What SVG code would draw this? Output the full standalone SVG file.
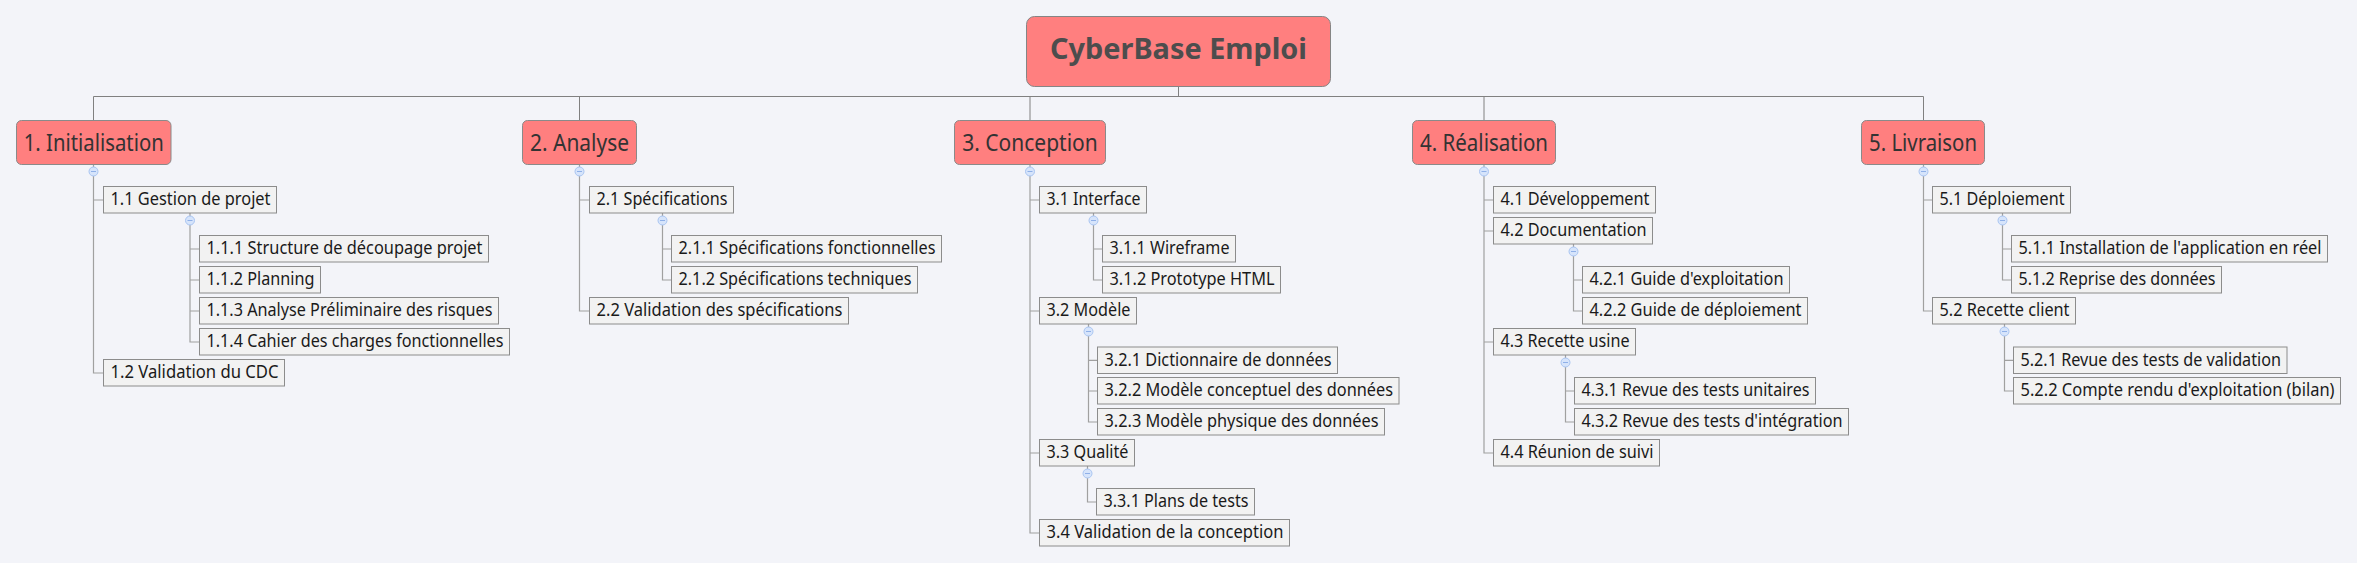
<svg xmlns="http://www.w3.org/2000/svg" xmlns:xlink="http://www.w3.org/1999/xlink" width="2357" height="563" viewBox="0 0 2357 563">
<style>
.bg{fill:#f3f4f9}
.root rect{fill:#ff7f7f;stroke:#858585;stroke-width:1}
.root text{font-family:"Noto Sans","Open Sans",sans-serif;font-weight:bold;font-size:29px;fill:#4d4d4d;text-anchor:middle}
.l1 rect{fill:#ff7f7f;stroke:#8a8a8a;stroke-width:1}
.l1 text{font-family:"Noto Sans","Open Sans",sans-serif;font-size:23px;fill:#333333;text-anchor:middle}
.sub rect{fill:#f2f2f2;stroke:#8c8c8c;stroke-width:1}
.sub text{font-family:"Noto Sans","Open Sans",sans-serif;font-size:18px;fill:#1a1a1a}
.bus{fill:none;stroke:#808080;stroke-width:1}
.ln{fill:none;stroke:#a0a0a0;stroke-width:1.2}
</style>
<defs>
<g id="cc">
<circle cx="0" cy="0" r="4.5" fill="#d6e4fb" stroke="#a9c5f2" stroke-width="1"/>
<line x1="-2.5" y1="0" x2="2.5" y2="0" stroke="#8fb0e8" stroke-width="1"/>
</g>
</defs>
<rect class="bg" x="0" y="0" width="2357" height="563"/>

<g id="connectors">
<path class="bus" d="M93.5 120.5 V96.5 H1923.5 V120.5 M579.5 96.5 V120.5 M1030 96.5 V120.5 M1484 96.5 V120.5 M1178.5 86.5 V96.5"/>
<path class="ln" d="M93.5 164.5 V373 H103.5 M93.5 200 H103.5"/>
<path class="ln" d="M190 213 V342 H199.5 M190 249 H199.5 M190 280 H199.5 M190 311 H199.5"/>
<path class="ln" d="M579.5 164.5 V311 H589.5 M579.5 200 H589.5"/>
<path class="ln" d="M662.5 213 V280 H671.5 M662.5 249 H671.5"/>
<path class="ln" d="M1030 164.5 V533 H1039.5 M1030 200 H1039.5 M1030 311 H1039.5 M1030 453 H1039.5"/>
<path class="ln" d="M1093.5 213 V280 H1102.5 M1093.5 249 H1102.5"/>
<path class="ln" d="M1088.5 324 V422 H1097.5 M1088.5 360.3 H1097.5 M1088.5 391 H1097.5"/>
<path class="ln" d="M1087.5 466 V502 H1096.5"/>
<path class="ln" d="M1484 164.5 V453 H1493.5 M1484 200 H1493.5 M1484 231 H1493.5 M1484 342 H1493.5"/>
<path class="ln" d="M1573.5 244 V311 H1582.5 M1573.5 280 H1582.5"/>
<path class="ln" d="M1565.5 355 V422 H1574.5 M1565.5 391 H1574.5"/>
<path class="ln" d="M1923.5 164.5 V311 H1932.5 M1923.5 200 H1932.5"/>
<path class="ln" d="M2002.5 213 V280 H2011.5 M2002.5 249 H2011.5"/>
<path class="ln" d="M2004.5 324 V391 H2013.5 M2004.5 360.3 H2013.5"/>
<use xlink:href="#cc" x="93.5" y="171.5"/>
<use xlink:href="#cc" x="579.5" y="171.5"/>
<use xlink:href="#cc" x="1030" y="171.5"/>
<use xlink:href="#cc" x="1484" y="171.5"/>
<use xlink:href="#cc" x="1923.5" y="171.5"/>
<use xlink:href="#cc" x="190" y="220.5"/>
<use xlink:href="#cc" x="662.5" y="220.5"/>
<use xlink:href="#cc" x="1093.5" y="220.5"/>
<use xlink:href="#cc" x="1088.5" y="331.5"/>
<use xlink:href="#cc" x="1087.5" y="473.5"/>
<use xlink:href="#cc" x="1573.5" y="251.5"/>
<use xlink:href="#cc" x="1565.5" y="362.5"/>
<use xlink:href="#cc" x="2002.5" y="220.5"/>
<use xlink:href="#cc" x="2004.5" y="331.5"/>
</g>

<g id="root" class="root"><rect x="1026.5" y="16.5" width="304" height="70" rx="8"/><text x="1178.5" y="59" textLength="257" lengthAdjust="spacingAndGlyphs">CyberBase Emploi</text></g>

<g id="n1" class="l1"><rect x="16.5" y="120.5" width="154.5" height="44" rx="5"/><text x="93.75" y="150.5" textLength="140" lengthAdjust="spacingAndGlyphs">1. Initialisation</text></g>
<g id="n2" class="l1"><rect x="522.5" y="120.5" width="114" height="44" rx="5"/><text x="579.5" y="150.5" textLength="99" lengthAdjust="spacingAndGlyphs">2. Analyse</text></g>
<g id="n3" class="l1"><rect x="954.5" y="120.5" width="151" height="44" rx="5"/><text x="1030" y="150.5" textLength="135.5" lengthAdjust="spacingAndGlyphs">3. Conception</text></g>
<g id="n4" class="l1"><rect x="1412.5" y="120.5" width="143" height="44" rx="5"/><text x="1484" y="150.5" textLength="128" lengthAdjust="spacingAndGlyphs">4. Réalisation</text></g>
<g id="n5" class="l1"><rect x="1861.5" y="120.5" width="123" height="44" rx="5"/><text x="1923" y="150.5" textLength="108" lengthAdjust="spacingAndGlyphs">5. Livraison</text></g>

<g id="n1_1" class="sub"><rect x="103.5" y="186.5" width="173" height="26.5"/><text x="110.5" y="205" textLength="160" lengthAdjust="spacingAndGlyphs">1.1 Gestion de projet</text></g>
<g id="n1_1_1" class="sub"><rect x="199.5" y="235.5" width="289" height="26.5"/><text x="206.5" y="254" textLength="276" lengthAdjust="spacingAndGlyphs">1.1.1 Structure de découpage projet</text></g>
<g id="n1_1_2" class="sub"><rect x="199.5" y="266.5" width="121" height="26.5"/><text x="206.5" y="285" textLength="108" lengthAdjust="spacingAndGlyphs">1.1.2  Planning</text></g>
<g id="n1_1_3" class="sub"><rect x="199.5" y="297.5" width="299" height="26.5"/><text x="206.5" y="316" textLength="286" lengthAdjust="spacingAndGlyphs">1.1.3  Analyse Préliminaire des risques</text></g>
<g id="n1_1_4" class="sub"><rect x="199.5" y="328.5" width="310" height="26.5"/><text x="206.5" y="347" textLength="297" lengthAdjust="spacingAndGlyphs">1.1.4 Cahier des charges fonctionnelles</text></g>
<g id="n1_2" class="sub"><rect x="103.5" y="359.5" width="181" height="26.5"/><text x="110.5" y="378" textLength="168" lengthAdjust="spacingAndGlyphs">1.2  Validation du CDC</text></g>

<g id="n2_1" class="sub"><rect x="589.5" y="186.5" width="144" height="26.5"/><text x="596.5" y="205" textLength="131" lengthAdjust="spacingAndGlyphs">2.1 Spécifications</text></g>
<g id="n2_1_1" class="sub"><rect x="671.5" y="235.5" width="270" height="26.5"/><text x="678.5" y="254" textLength="257" lengthAdjust="spacingAndGlyphs">2.1.1 Spécifications fonctionnelles</text></g>
<g id="n2_1_2" class="sub"><rect x="671.5" y="266.5" width="246" height="26.5"/><text x="678.5" y="285" textLength="233" lengthAdjust="spacingAndGlyphs">2.1.2 Spécifications techniques</text></g>
<g id="n2_2" class="sub"><rect x="589.5" y="297.5" width="259" height="26.5"/><text x="596.5" y="316" textLength="246" lengthAdjust="spacingAndGlyphs">2.2  Validation des spécifications</text></g>

<g id="n3_1" class="sub"><rect x="1039.5" y="186.5" width="107" height="26.5"/><text x="1046.5" y="205" textLength="94" lengthAdjust="spacingAndGlyphs">3.1 Interface</text></g>
<g id="n3_1_1" class="sub"><rect x="1102.5" y="235.5" width="133" height="26.5"/><text x="1109.5" y="254" textLength="120" lengthAdjust="spacingAndGlyphs">3.1.1 Wireframe</text></g>
<g id="n3_1_2" class="sub"><rect x="1102.5" y="266.5" width="178" height="26.5"/><text x="1109.5" y="285" textLength="165" lengthAdjust="spacingAndGlyphs">3.1.2 Prototype HTML</text></g>
<g id="n3_2" class="sub"><rect x="1039.5" y="297.5" width="97" height="26.5"/><text x="1046.5" y="316" textLength="84" lengthAdjust="spacingAndGlyphs">3.2 Modèle</text></g>
<g id="n3_2_1" class="sub"><rect x="1097.5" y="347" width="240" height="26.5"/><text x="1104.5" y="365.5" textLength="227" lengthAdjust="spacingAndGlyphs">3.2.1 Dictionnaire de données</text></g>
<g id="n3_2_2" class="sub"><rect x="1097.5" y="377.5" width="301.5" height="26.5"/><text x="1104.5" y="396" textLength="288.5" lengthAdjust="spacingAndGlyphs">3.2.2 Modèle conceptuel des données</text></g>
<g id="n3_2_3" class="sub"><rect x="1097.5" y="408.5" width="287" height="26.5"/><text x="1104.5" y="427" textLength="274" lengthAdjust="spacingAndGlyphs">3.2.3 Modèle physique des données</text></g>
<g id="n3_3" class="sub"><rect x="1039.5" y="439.5" width="95" height="26.5"/><text x="1046.5" y="458" textLength="82" lengthAdjust="spacingAndGlyphs">3.3  Qualité</text></g>
<g id="n3_3_1" class="sub"><rect x="1096.5" y="488.5" width="158" height="26.5"/><text x="1103.5" y="507" textLength="145" lengthAdjust="spacingAndGlyphs">3.3.1 Plans de tests</text></g>
<g id="n3_4" class="sub"><rect x="1039.5" y="519.5" width="250" height="26.5"/><text x="1046.5" y="538" textLength="237" lengthAdjust="spacingAndGlyphs">3.4  Validation de la conception</text></g>

<g id="n4_1" class="sub"><rect x="1493.5" y="186.5" width="162" height="26.5"/><text x="1500.5" y="205" textLength="149" lengthAdjust="spacingAndGlyphs">4.1 Développement</text></g>
<g id="n4_2" class="sub"><rect x="1493.5" y="217.5" width="159" height="26.5"/><text x="1500.5" y="236" textLength="146" lengthAdjust="spacingAndGlyphs">4.2 Documentation</text></g>
<g id="n4_2_1" class="sub"><rect x="1582.5" y="266.5" width="207" height="26.5"/><text x="1589.5" y="285" textLength="194" lengthAdjust="spacingAndGlyphs">4.2.1 Guide d'exploitation</text></g>
<g id="n4_2_2" class="sub"><rect x="1582.5" y="297.5" width="225" height="26.5"/><text x="1589.5" y="316" textLength="212" lengthAdjust="spacingAndGlyphs">4.2.2 Guide de déploiement</text></g>
<g id="n4_3" class="sub"><rect x="1493.5" y="328.5" width="142" height="26.5"/><text x="1500.5" y="347" textLength="129" lengthAdjust="spacingAndGlyphs">4.3 Recette usine</text></g>
<g id="n4_3_1" class="sub"><rect x="1574.5" y="377.5" width="241" height="26.5"/><text x="1581.5" y="396" textLength="228" lengthAdjust="spacingAndGlyphs">4.3.1 Revue des tests unitaires</text></g>
<g id="n4_3_2" class="sub"><rect x="1574.5" y="408.5" width="274" height="26.5"/><text x="1581.5" y="427" textLength="261" lengthAdjust="spacingAndGlyphs">4.3.2 Revue des tests d'intégration</text></g>
<g id="n4_4" class="sub"><rect x="1493.5" y="439.5" width="166" height="26.5"/><text x="1500.5" y="458" textLength="153" lengthAdjust="spacingAndGlyphs">4.4 Réunion de suivi</text></g>

<g id="n5_1" class="sub"><rect x="1932.5" y="186.5" width="138" height="26.5"/><text x="1939.5" y="205" textLength="125" lengthAdjust="spacingAndGlyphs">5.1 Déploiement</text></g>
<g id="n5_1_1" class="sub"><rect x="2011.5" y="235.5" width="316" height="26.5"/><text x="2018.5" y="254" textLength="303" lengthAdjust="spacingAndGlyphs">5.1.1 Installation de l'application en réel</text></g>
<g id="n5_1_2" class="sub"><rect x="2011.5" y="266.5" width="210" height="26.5"/><text x="2018.5" y="285" textLength="197" lengthAdjust="spacingAndGlyphs">5.1.2 Reprise des données</text></g>
<g id="n5_2" class="sub"><rect x="1932.5" y="297.5" width="143" height="26.5"/><text x="1939.5" y="316" textLength="130" lengthAdjust="spacingAndGlyphs">5.2 Recette client</text></g>
<g id="n5_2_1" class="sub"><rect x="2013.5" y="347" width="273.5" height="26.5"/><text x="2020.5" y="365.5" textLength="260.5" lengthAdjust="spacingAndGlyphs">5.2.1 Revue des tests de validation</text></g>
<g id="n5_2_2" class="sub"><rect x="2013.5" y="377.5" width="327" height="26.5"/><text x="2020.5" y="396" textLength="314" lengthAdjust="spacingAndGlyphs">5.2.2 Compte rendu d'exploitation (bilan)</text></g>
</svg>
